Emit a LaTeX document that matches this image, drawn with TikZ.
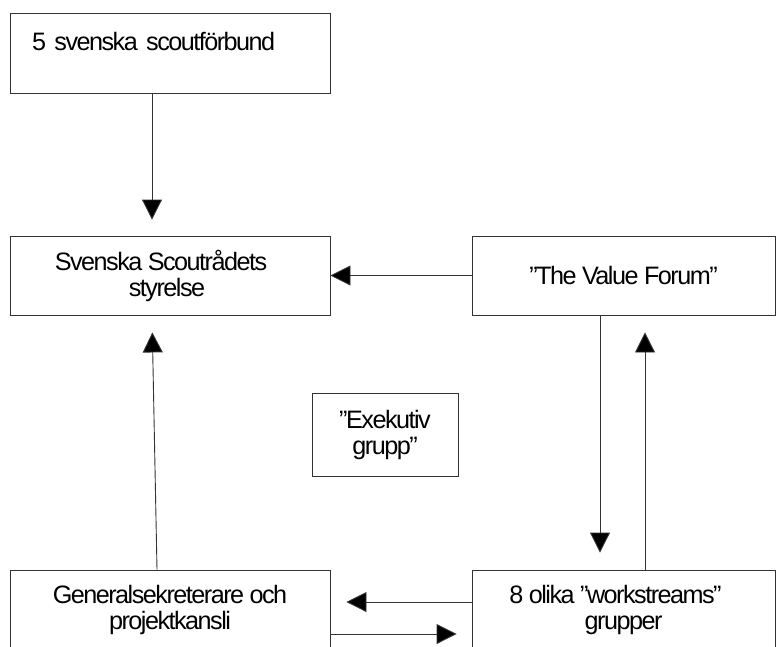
\documentclass[tikz,border=0pt]{standalone}
\usepackage{fontspec}
\setmainfont{Liberation Sans}[LetterSpace=-6]
\usetikzlibrary{arrows.meta}

\begin{document}
\begin{tikzpicture}[x=1pt,y=-1pt,
    box/.style={draw=black!80, line width=0.9pt, rectangle, inner sep=0pt, align=center,
        font=\fontsize{25.2}{26}\selectfont, minimum width=320pt, minimum height=79pt},
    arr/.style={draw=black!80, line width=0.9pt,
        -{Triangle[length=20pt,width=20pt,fill=black]}}]
    \clip (0,0) rectangle (781,646);

    % boxes
    \node[box, align=left, inner xsep=22pt, text width=276pt, text height=37pt,
        text depth=43pt, minimum height=80pt] (fed) at (170,53) {5 svenska scoutförbund};
    \node[box] (board) at (170,275.5) {Svenska Scoutrådets\hspace*{18pt}\\styrelse\hspace*{6pt}};
    \node[box, minimum width=303pt] (forum) at (623.5,275.5) {”The Value Forum”};
    \node[box, minimum width=146pt, minimum height=83pt] (exec) at (385,434.5) {”Exekutiv\\grupp”};
    \node[box] (office) at (170,609.5) {Generalsekreterare och\\projektkansli};
    \node[box, minimum width=303pt] (streams) at (623.5,609.5) {8 olika ”workstreams”\hspace*{16pt}\\grupper};

    % arrows
    \draw[arr, shorten >=16pt] ([xshift=-18pt]fed.south) -- ([xshift=-18pt]board.north);
    \draw[arr] (forum.west) -- (board.east);
    \draw[arr, shorten >=17pt] ([xshift=-13pt]office.north) -- ([xshift=-18pt]board.south);
    \draw[arr, shorten >=17pt] ([xshift=-23.5pt]forum.south) -- ([xshift=-23.5pt]streams.north);
    \draw[arr, shorten >=17pt] ([xshift=21.5pt]streams.north) -- ([xshift=21.5pt]forum.south);
    \draw[arr, shorten >=16pt] ([yshift=7.5pt]streams.west) -- ([yshift=7.5pt]office.east);
    \draw[arr, shorten >=15pt] ([yshift=-24.5pt]office.east) -- ([yshift=-24.5pt]streams.west);
\end{tikzpicture}
\end{document}
